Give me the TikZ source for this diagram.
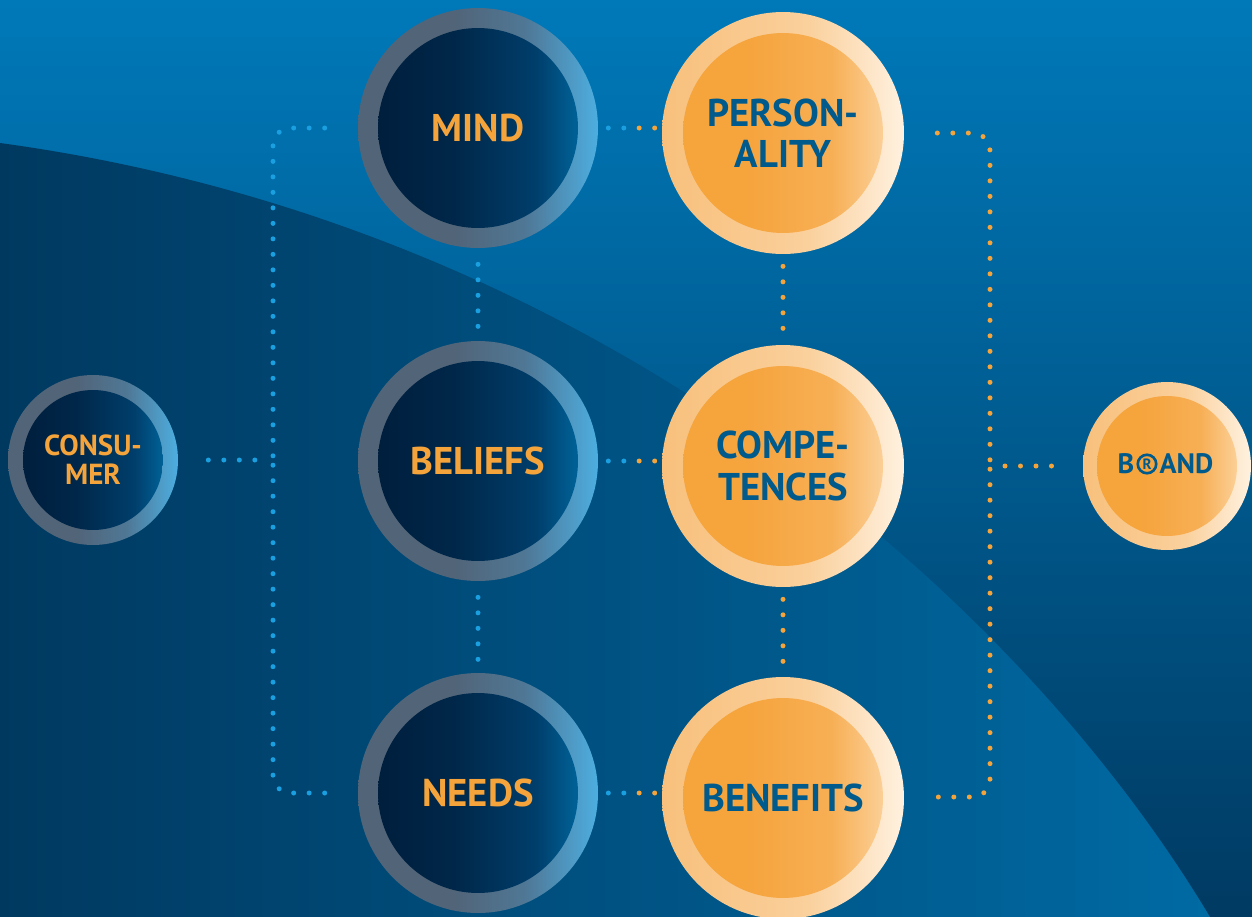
\documentclass[tikz,border=0pt]{standalone}
\usepackage{fontspec}
\newfontfamily\labelfont{PT Sans}
\usetikzlibrary{calc,positioning}

\definecolor{skytop}{HTML}{0079B9}
\definecolor{skymid}{HTML}{00578A}
\definecolor{skybot}{HTML}{003A62}
\definecolor{arcleft}{HTML}{003960}
\definecolor{arcmid}{HTML}{004672}
\definecolor{arcright}{HTML}{006AA3}
\definecolor{ringgray}{HTML}{516478}
\definecolor{ringmix}{HTML}{4F7896}
\definecolor{ringblue}{HTML}{4DAEE0}
\definecolor{navyA}{HTML}{001C3A}
\definecolor{navyB}{HTML}{002749}
\definecolor{navyC}{HTML}{003E6B}
\definecolor{navyD}{HTML}{0073AD}
\definecolor{ringsand}{HTML}{F8C07C}
\definecolor{ringpale}{HTML}{FAD09C}
\definecolor{ringcream}{HTML}{FFF1DF}
\definecolor{orangeA}{HTML}{F6A43C}
\definecolor{orangeB}{HTML}{F7AF55}
\definecolor{orangeC}{HTML}{FDDCB0}
\definecolor{labelorange}{HTML}{F5A43C}
\definecolor{labelblue}{HTML}{005A8C}
\definecolor{dotblue}{HTML}{1A9FE0}
\definecolor{dotorange}{HTML}{F5A43C}

\pgfdeclarehorizontalshading{darkring}{100bp}{color(0bp)=(ringgray); color(25bp)=(ringgray); color(45bp)=(ringgray); color(60bp)=(ringmix); color(75bp)=(ringblue); color(100bp)=(ringblue)}
\pgfdeclarehorizontalshading{darkcore}{100bp}{color(0bp)=(navyA); color(25bp)=(navyA); color(45bp)=(navyB); color(62bp)=(navyC); color(75bp)=(navyD); color(100bp)=(navyD)}
\pgfdeclarehorizontalshading{lightring}{100bp}{color(0bp)=(ringsand); color(25bp)=(ringsand); color(55bp)=(ringpale); color(75bp)=(ringcream); color(100bp)=(ringcream)}
\pgfdeclarehorizontalshading{lightcore}{100bp}{color(0bp)=(orangeA); color(25bp)=(orangeA); color(42bp)=(orangeA); color(60bp)=(orangeB); color(75bp)=(orangeC); color(100bp)=(orangeC)}

\tikzset{
  bigfont/.style={font=\labelfont\bfseries\fontsize{22}{23.6}\selectfont},
  smallfont/.style={font=\labelfont\bfseries\fontsize{16.5}{16.5}\selectfont},
  darkbig/.style={circle, inner sep=0pt, minimum size=4.8cm, shade, shading=darkring,
    text=labelorange, align=center, bigfont,
    path picture={\shade[shading=darkcore] (path picture bounding box.center) circle (2cm);}},
  lightbig/.style={circle, inner sep=0pt, minimum size=4.84cm, shade, shading=lightring,
    text=labelblue, align=center, bigfont,
    path picture={\shade[shading=lightcore] (path picture bounding box.center) circle (2cm);}},
  darksmall/.style={circle, inner sep=0pt, minimum size=3.4cm, shade, shading=darkring,
    text=labelorange, align=center, smallfont,
    path picture={\shade[shading=darkcore] (path picture bounding box.center) circle (1.4cm);}},
  lightsmall/.style={circle, inner sep=0pt, minimum size=3.36cm, shade, shading=lightring,
    path picture={\shade[shading=lightcore] (path picture bounding box.center) circle (1.4cm);}},
  brandtext/.style={inner sep=0pt, text=labelblue, font=\labelfont\bfseries\fontsize{16}{16}\selectfont},
  regmark/.style={circle, draw=labelblue, line width=1.5pt, inner sep=0pt, minimum size=10.5pt,
    text=labelblue, font=\labelfont\bfseries\fontsize{8.5}{8.5}\selectfont},
  bluedots/.style={draw=dotblue, line width=0.1cm, line cap=round, dash pattern=on 0pt off 0.31cm},
  orangedots/.style={draw=dotorange, line width=0.1cm, line cap=round, dash pattern=on 0pt off 0.31cm}
}

\begin{document}
\begin{tikzpicture}[x=0.02cm, y=-0.02cm]

  \useasboundingbox (0,0) rectangle (1252,917);

  % background and the big arc
  \shade[top color=skytop, middle color=skymid, bottom color=skybot] (0,0) rectangle (1252,917);
  \shade[left color=arcleft, middle color=arcmid, right color=arcright]
    (0,143) .. controls (600,225) and (1020,600) .. (1210,917) -- (0,917) -- cycle;

  % circles
  \node[darksmall] (consumer) at (93,460) {CONSU-\\MER};
  \node[darkbig] (mind) at (478,128) {MIND};
  \node[darkbig] (beliefs) at (478,461) {BELIEFS};
  \node[darkbig] (needs) at (478,793) {NEEDS};
  \node[lightbig] (personality) at (783,133) {PERSON-\\ALITY};
  \node[lightbig] (competences) at (783,466) {COMPE-\\TENCES};
  \node[lightbig] (benefits) at (783,798) {BENEFITS};
  \node[lightsmall] (brand) at (1167,466) {};
  \node[regmark] (brandR) at (1147,464) {R};
  \node[brandtext, left=1pt of brandR] (brandB) {B};
  \node[brandtext, right=1pt of brandR] (brandAND) {AND};

  % consumer side
  \coordinate (lbr) at (273,460);
  \draw[bluedots, rounded corners=0.35cm] ($(mind.west)+(-33,0)$) -| (lbr);
  \draw[bluedots, rounded corners=0.35cm] ($(needs.west)+(-33,0)$) -| (lbr);
  \draw[bluedots] ($(consumer.east)+(30,0)$) -- ($(lbr)+(-15,0)$);
  \draw[bluedots] ($(mind.south)+(0,16)$) -- ($(beliefs.north)+(0,-12)$);
  \draw[bluedots] ($(beliefs.south)+(0,16)$) -- ($(needs.north)+(0,-12)$);

  % links between the columns
  \coordinate (mid1) at ($(mind.east)!0.5!(mind.east -| personality.west)$);
  \draw[bluedots] ($(mind.east)+(10,0)$) -- (mid1);
  \draw[orangedots] ($(mind.east -| personality.west)+(-7,0)$) -- (mid1);
  \coordinate (mid2) at ($(beliefs.east)!0.5!(beliefs.east -| competences.west)$);
  \draw[bluedots] ($(beliefs.east)+(10,0)$) -- (mid2);
  \draw[orangedots] ($(beliefs.east -| competences.west)+(-7,0)$) -- (mid2);
  \coordinate (mid3) at ($(needs.east)!0.5!(needs.east -| benefits.west)$);
  \draw[bluedots] ($(needs.east)+(10,0)$) -- (mid3);
  \draw[orangedots] ($(needs.east -| benefits.west)+(-7,0)$) -- (mid3);

  % brand side
  \draw[orangedots] ($(personality.south)+(0,12)$) -- ($(competences.north)+(0,-14)$);
  \draw[orangedots] ($(competences.south)+(0,12)$) -- ($(benefits.north)+(0,-14)$);
  \coordinate (rbr) at (990,466);
  \draw[orangedots, rounded corners=0.35cm] ($(personality.east)+(33,0)$) -| (rbr);
  \draw[orangedots, rounded corners=0.35cm] ($(benefits.east)+(34,-1)$) -| (rbr);
  \draw[orangedots] ($(rbr)+(15,0)$) -- ($(brand.west)+(-28,0)$);

\end{tikzpicture}
\end{document}
